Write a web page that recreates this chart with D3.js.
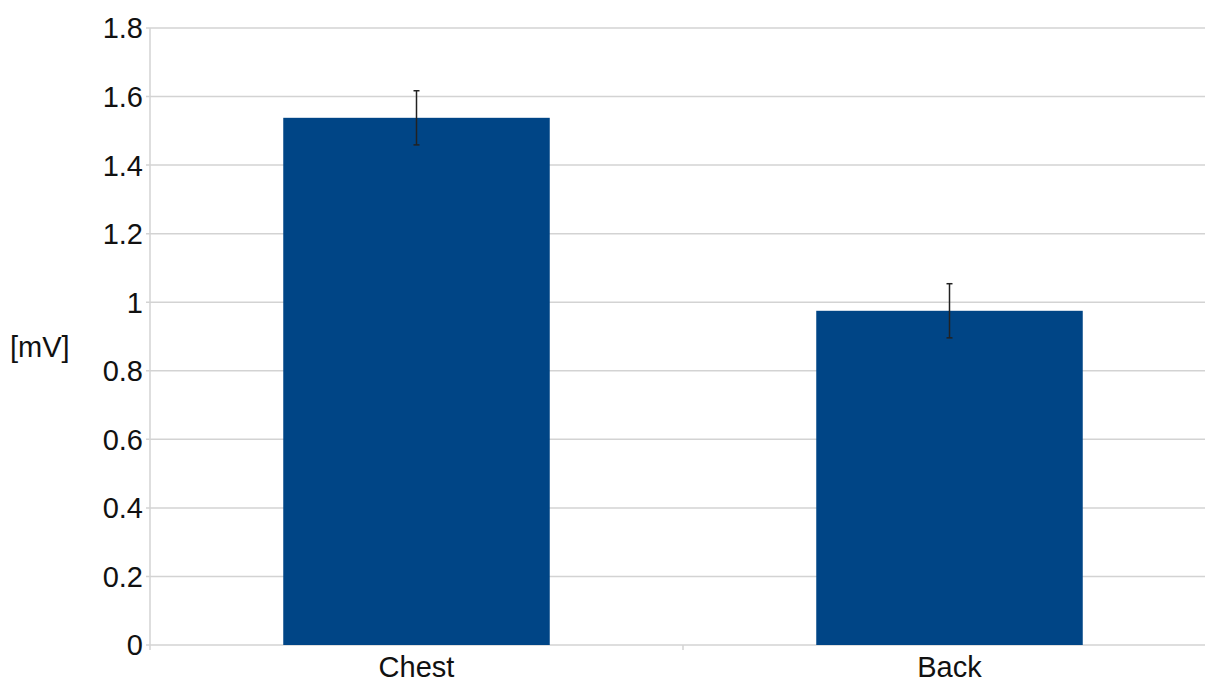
<!DOCTYPE html>
<html>
<head>
<meta charset="utf-8">
<script src="https://cdn.jsdelivr.net/npm/d3@7"></script>
<style>
  body { margin: 0; background: #fff; }
  svg { display: block; }
</style>
</head>
<body>
<div id="chart"></div>
<script>
// Chart data
var categories = ["Chest", "Back"];
var means = [1.538, 0.975];
var errors = [0.079, 0.079];
var yTicks = [0, 0.2, 0.4, 0.6, 0.8, 1, 1.2, 1.4, 1.6, 1.8];
var yLabel = "[mV]";

var W = 1205, H = 683;
// plot area; the right edge runs a little past the picture, as in the original
var margin = { top: 28, left: 150, plotRight: 1216, bottom: 645 };

var svg = d3.select("#chart").append("svg")
    .attr("width", W)
    .attr("height", H)
    .style("font-family", "'Liberation Sans', Arial, sans-serif");

var xScale = d3.scaleBand()
    .domain(categories)
    .range([margin.left, margin.plotRight])
    .paddingInner(0.5)
    .paddingOuter(0.25);

var yScale = d3.scaleLinear()
    .domain([0, 1.8])
    .range([margin.bottom, margin.top]);

// Horizontal grid lines
svg.append("g")
    .selectAll("line")
    .data(yTicks)
    .join("line")
    .attr("x1", margin.left - 4)
    .attr("x2", margin.plotRight)
    .attr("y1", function (d) { return yScale(d); })
    .attr("y2", function (d) { return yScale(d); })
    .attr("stroke", "#d3d3d3")
    .attr("stroke-width", 1.5);

// Y axis line
svg.append("line")
    .attr("x1", margin.left).attr("x2", margin.left)
    .attr("y1", margin.top).attr("y2", margin.bottom)
    .attr("stroke", "#d3d3d3")
    .attr("stroke-width", 1.5);

// Y tick labels
svg.append("g")
    .selectAll("text")
    .data(yTicks)
    .join("text")
    .attr("x", margin.left - 7)
    .attr("y", function (d) { return yScale(d); })
    .attr("dy", "0.36em")
    .attr("text-anchor", "end")
    .attr("font-size", 29)
    .attr("fill", "#111")
    .text(function (d) { return d3.format("")(d); });

// Category boundary ticks on the x axis (edges of each category slot)
var step = xScale.step();
var bounds = d3.range(categories.length + 1).map(function (i) {
    return margin.left + i * step;
});
svg.append("g")
    .selectAll("line")
    .data(bounds)
    .join("line")
    .attr("x1", function (d) { return d; })
    .attr("x2", function (d) { return d; })
    .attr("y1", margin.bottom)
    .attr("y2", margin.bottom + 5)
    .attr("stroke", "#d3d3d3")
    .attr("stroke-width", 1.5);

// Bars
svg.append("g")
    .selectAll("rect")
    .data(categories)
    .join("rect")
    .attr("x", function (d) { return xScale(d); })
    .attr("width", xScale.bandwidth())
    .attr("y", function (d, i) { return yScale(means[i]); })
    .attr("height", function (d, i) { return yScale(0) - yScale(means[i]); })
    .attr("fill", "#004586");

// Error bars
var errG = svg.append("g")
    .attr("stroke", "#222")
    .attr("stroke-width", 1.5);
categories.forEach(function (c, i) {
    var cx = xScale(c) + xScale.bandwidth() / 2;
    var top = yScale(means[i] + errors[i]);
    var bot = yScale(means[i] - errors[i]);
    errG.append("line")
        .attr("x1", cx).attr("x2", cx)
        .attr("y1", top).attr("y2", bot);
    errG.append("line")
        .attr("x1", cx - 3).attr("x2", cx + 3)
        .attr("y1", top).attr("y2", top);
    errG.append("line")
        .attr("x1", cx - 3).attr("x2", cx + 3)
        .attr("y1", bot).attr("y2", bot);
});

// X category labels
svg.append("g")
    .selectAll("text")
    .data(categories)
    .join("text")
    .attr("x", function (d) { return xScale(d) + xScale.bandwidth() / 2; })
    .attr("y", 677)
    .attr("text-anchor", "middle")
    .attr("font-size", 29)
    .attr("fill", "#111")
    .text(function (d) { return d; });

// Y axis title
svg.append("text")
    .attr("x", 10)
    .attr("y", 357)
    .attr("font-size", 29)
    .attr("fill", "#111")
    .text(yLabel);
</script>
</body>
</html>
